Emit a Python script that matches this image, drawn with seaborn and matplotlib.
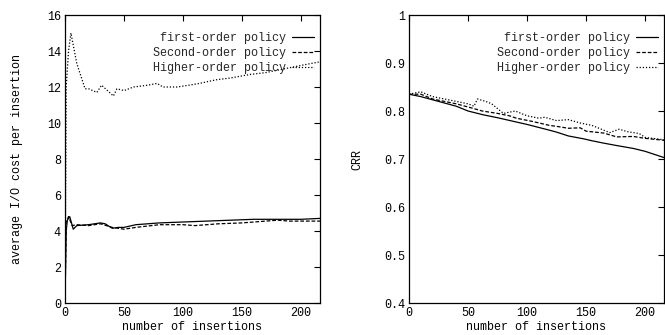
import matplotlib
matplotlib.use("Agg")
import matplotlib.pyplot as plt
import seaborn as sns
import pandas as pd

# Left panel: average I/O cost per insertion
io_first_x = [0, 1, 2, 4, 7, 10, 20, 30, 34, 40, 45, 50, 60, 80, 100, 120, 140, 160, 180, 200, 216]
io_first_y = [0, 4.0, 4.6, 4.8, 4.1, 4.3, 4.35, 4.45, 4.4, 4.15, 4.2, 4.2, 4.35, 4.45, 4.5, 4.55, 4.6, 4.65, 4.65, 4.65, 4.7]
io_second_x = [0, 1, 3, 6, 10, 20, 30, 40, 50, 60, 80, 100, 110, 130, 150, 170, 180, 190, 200, 216]
io_second_y = [0, 4.5, 4.8, 4.3, 4.35, 4.3, 4.4, 4.2, 4.1, 4.2, 4.35, 4.35, 4.3, 4.4, 4.45, 4.55, 4.6, 4.55, 4.55, 4.55]
io_higher_x = [0, 1, 3, 5, 10, 17, 20, 27, 31, 36, 41, 44, 50, 58, 70, 78, 83, 95, 105, 114, 128, 140, 157, 170, 185, 200, 216]
io_higher_y = [0, 12.0, 14.0, 15.0, 13.3, 11.9, 11.9, 11.7, 12.1, 11.8, 11.5, 11.9, 11.8, 12.0, 12.1, 12.2, 12.0, 12.0, 12.1, 12.2, 12.4, 12.5, 12.7, 12.8, 13.0, 13.2, 13.4]

# Right panel: CRR
crr_first_x = [0, 10, 25, 40, 50, 63, 75, 91, 100, 119, 125, 135, 148, 155, 165, 176, 190, 200, 216]
crr_first_y = [0.835, 0.83, 0.82, 0.81, 0.80, 0.792, 0.786, 0.777, 0.772, 0.760, 0.756, 0.748, 0.742, 0.738, 0.733, 0.728, 0.722, 0.716, 0.703]
crr_second_x = [0, 10, 20, 40, 55, 62, 75, 85, 91, 105, 119, 125, 135, 145, 150, 165, 176, 190, 200, 216]
crr_second_y = [0.835, 0.835, 0.825, 0.815, 0.805, 0.80, 0.795, 0.79, 0.785, 0.778, 0.770, 0.768, 0.764, 0.765, 0.758, 0.754, 0.746, 0.747, 0.743, 0.739]
crr_higher_x = [0, 10, 20, 30, 40, 50, 55, 58, 65, 70, 75, 80, 90, 95, 100, 110, 115, 125, 135, 145, 155, 160, 170, 178, 185, 195, 200, 216]
crr_higher_y = [0.835, 0.84, 0.83, 0.825, 0.82, 0.815, 0.81, 0.825, 0.82, 0.815, 0.805, 0.795, 0.80, 0.795, 0.79, 0.785, 0.787, 0.78, 0.782, 0.775, 0.77, 0.765, 0.755, 0.762, 0.757, 0.753, 0.745, 0.74]

labels = ["first-order policy", "Second-order policy", "Higher-order policy"]
styles = ["-", (0, (3, 1.5)), (0, (1, 1.5))]

sns.set_theme(style="white")
plt.rcParams["font.family"] = ["Liberation Mono", "DejaVu Sans Mono"]
plt.rcParams["xtick.direction"] = "in"
plt.rcParams["ytick.direction"] = "in"

fig = plt.figure(figsize=(6.65, 3.35), dpi=100)
ax1 = fig.add_axes([65 / 665, 1 - 303 / 335, 255 / 665, 288 / 335])
ax2 = fig.add_axes([409 / 665, 1 - 303 / 335, 255 / 665, 288 / 335])

def draw(ax, series, ylim, yticks, yticklabels, ylabel):
    for (xs, ys), lab, ls in zip(series, labels, styles):
        df = pd.DataFrame({"x": xs, "y": ys})
        sns.lineplot(data=df, x="x", y="y", ax=ax, color="black", lw=0.9,
                     linestyle=ls, label=lab, estimator=None, sort=False)
    ax.set_xlim(0, 216)
    ax.set_ylim(*ylim)
    ax.set_xticks([0, 50, 100, 150, 200])
    ax.set_xticklabels(["0", "50", "100", "150", "200"])
    ax.set_yticks(yticks)
    ax.set_yticklabels(yticklabels)
    ax.tick_params(axis="both", which="both", direction="in", length=4, width=0.8,
                   top=True, right=True, labelsize=8.5, colors="black", pad=3)
    for sp in ax.spines.values():
        sp.set_color("black")
        sp.set_linewidth(0.9)
    ax.set_xlabel("number of insertions", fontsize=8.5, color="black", labelpad=1)
    ax.set_ylabel(ylabel, fontsize=8.5, color="black")
    leg = ax.legend(loc="upper right", bbox_to_anchor=(0.975, 0.94), frameon=False,
                    fontsize=8.5, markerfirst=False,
                    handlelength=1.8, handletextpad=0.5, labelspacing=0.25,
                    borderaxespad=0.0, borderpad=0.0)
    for t in leg.get_texts():
        t.set_ha("right")

draw(ax1, [(io_first_x, io_first_y), (io_second_x, io_second_y), (io_higher_x, io_higher_y)],
     (0, 16), list(range(0, 17, 2)), [str(v) for v in range(0, 17, 2)],
     "average I/O cost per insertion")
draw(ax2, [(crr_first_x, crr_first_y), (crr_second_x, crr_second_y), (crr_higher_x, crr_higher_y)],
     (0.4, 1.0), [0.4, 0.5, 0.6, 0.7, 0.8, 0.9, 1.0], ["0.4", "0.5", "0.6", "0.7", "0.8", "0.9", "1"],
     "CRR")
ax1.yaxis.set_label_coords(-0.165, 0.5)
ax2.yaxis.set_label_coords(-0.18, 0.5)

fig.savefig("out.png", dpi=100)
